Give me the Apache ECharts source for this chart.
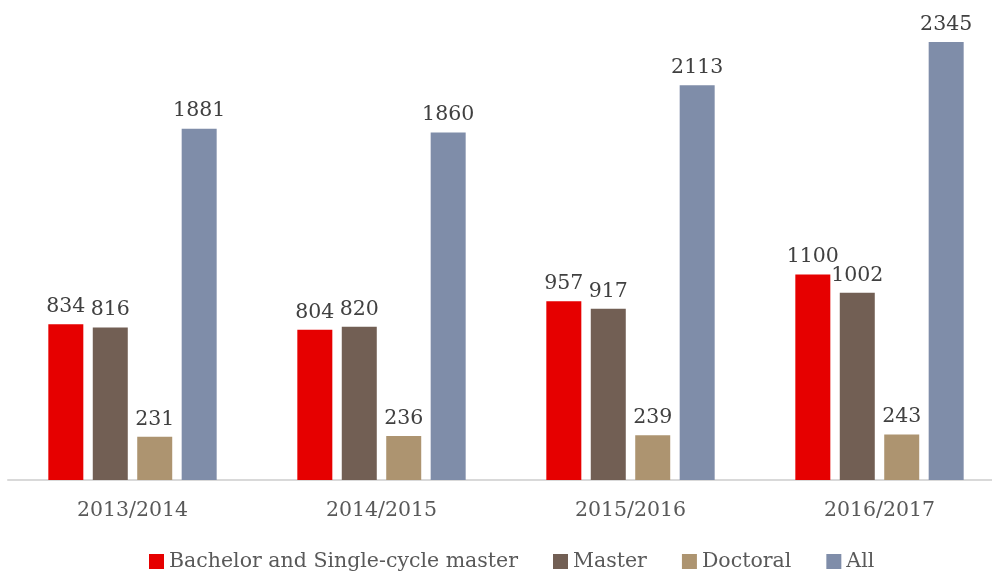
<!DOCTYPE html>
<html>
<head>
<meta charset="utf-8">
<script src="https://cdn.jsdelivr.net/npm/echarts@6/dist/echarts.min.js"></script>
<style>
  html, body { margin: 0; padding: 0; background: #fff; }
  #chart { width: 992px; height: 573px; }
</style>
</head>
<body>
<div id="chart"></div>
<script>
const years = ['2013/2014', '2014/2015', '2015/2016', '2016/2017']
const bachelor = [834, 804, 957, 1100]
const master = [816, 820, 917, 1002]
const doctoral = [231, 236, 239, 243]
const all = [1881, 1860, 2113, 2345]

const font = '"DejaVu Serif", Georgia, serif'
const colors = ['#E60000', '#725F54', '#AD9470', '#7F8DA9']
const names = ['Bachelor and Single-cycle master', 'Master', 'Doctoral', 'All']
const values = [bachelor, master, doctoral, all]

const chart = echarts.init(document.getElementById('chart'))
const series = names.map((name, i) => ({
  name,
  type: 'bar',
  data: values[i],
  barWidth: 35,
  barGap: '27%',
  itemStyle: { color: colors[i] },
  label: {
    show: true,
    position: 'top',
    distance: 7,
    color: '#404040',
    fontFamily: font,
    fontSize: 20.5
  }
}))

chart.setOption({
  animation: false,
  grid: { left: 8, width: 996, top: 13, bottom: 93, outerBoundsMode: 'none' },
  legend: {
    top: 551,
    left: 149,
    padding: 0,
    itemWidth: 15,
    itemHeight: 15,
    itemGap: 35,
    icon: 'rect',
    textStyle: { color: '#595959', fontFamily: font, fontSize: 20.5 },
    data: names
  },
  xAxis: {
    type: 'category',
    data: years,
    axisLine: { lineStyle: { color: '#D9D9D9', width: 2 } },
    axisTick: { show: false },
    axisLabel: { color: '#595959', fontFamily: font, fontSize: 20.5, margin: 20 }
  },
  yAxis: {
    type: 'value',
    min: 0,
    max: 2500,
    show: false,
    splitLine: { show: false }
  },
  series
})
</script>
</body>
</html>
